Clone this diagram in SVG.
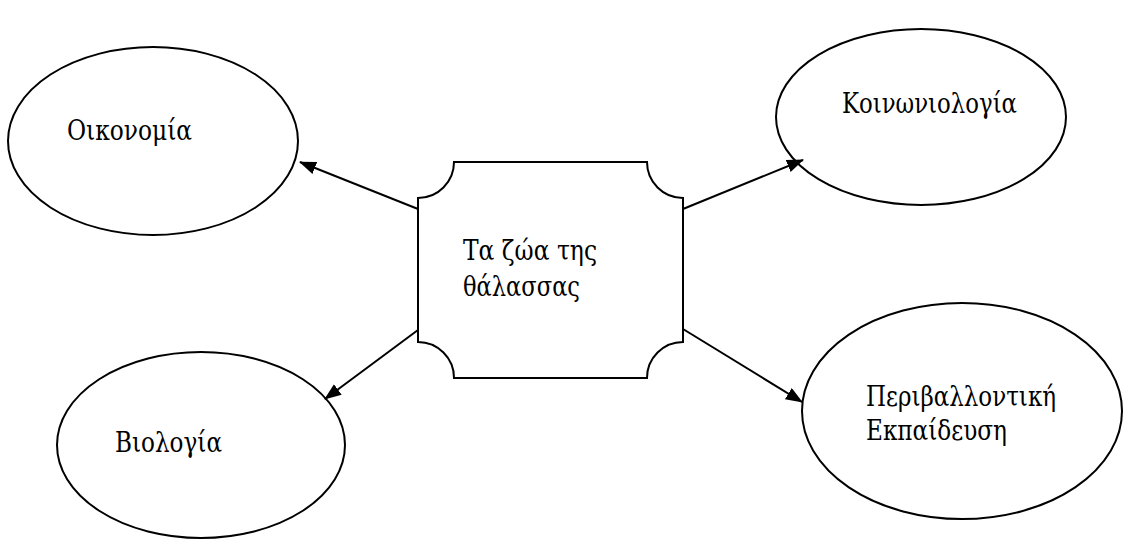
<svg xmlns="http://www.w3.org/2000/svg" width="1126" height="539" viewBox="0 0 1126 539">
<style>
.shape{fill:#fff;stroke:#000;stroke-width:2}
.lbl{font-family:"DejaVu Serif","Liberation Serif",serif;font-size:28px;fill:#000}
.conn{stroke:#000;stroke-width:2;fill:none;marker-end:url(#arr)}
</style>
<defs>
<marker id="arr" markerUnits="userSpaceOnUse" markerWidth="20" markerHeight="14" refX="16" refY="6.5" orient="auto">
<path d="M0,0 L17,6.5 L0,13 Z" fill="#000"/>
</marker>
</defs>
<rect width="1126" height="539" fill="#fff"/>
<g id="node-oikonomia">
<ellipse class="shape" cx="153" cy="141" rx="145" ry="94"/>
<text class="lbl" x="67" y="140" textLength="125" lengthAdjust="spacingAndGlyphs">Οικονομία</text>
</g>
<g id="node-koinoniologia">
<ellipse class="shape" cx="921" cy="117" rx="145" ry="88"/>
<text class="lbl" x="842" y="113" textLength="175" lengthAdjust="spacingAndGlyphs">Κοινωνιολογία</text>
</g>
<g id="node-viologia">
<ellipse class="shape" cx="201" cy="445" rx="144" ry="93"/>
<text class="lbl" x="115" y="452" textLength="107" lengthAdjust="spacingAndGlyphs">Βιολογία</text>
</g>
<g id="node-perivallontiki">
<ellipse class="shape" cx="962" cy="411" rx="160" ry="108"/>
<text class="lbl" x="866" y="406" textLength="190" lengthAdjust="spacingAndGlyphs">Περιβαλλοντική</text>
<text class="lbl" x="866" y="440" textLength="141" lengthAdjust="spacingAndGlyphs">Εκπαίδευση</text>
</g>
<g id="node-center">
<path class="shape" d="M454,162 H647 A36,36 0 0 0 683,198 V342 A36,36 0 0 0 647,378 H454 A36,36 0 0 0 418,342 V198 A36,36 0 0 0 454,162 Z"/>
<text class="lbl" x="463" y="260" textLength="134" lengthAdjust="spacingAndGlyphs">Τα ζώα της</text>
<text class="lbl" x="463" y="296" textLength="117" lengthAdjust="spacingAndGlyphs">θάλασσας</text>
</g>
<g id="connectors">
<line class="conn" x1="418" y1="209" x2="300" y2="162"/>
<line class="conn" x1="418" y1="330" x2="325" y2="399"/>
<line class="conn" x1="683" y1="209" x2="803" y2="160"/>
<line class="conn" x1="683" y1="329" x2="802" y2="402"/>
</g>
</svg>
